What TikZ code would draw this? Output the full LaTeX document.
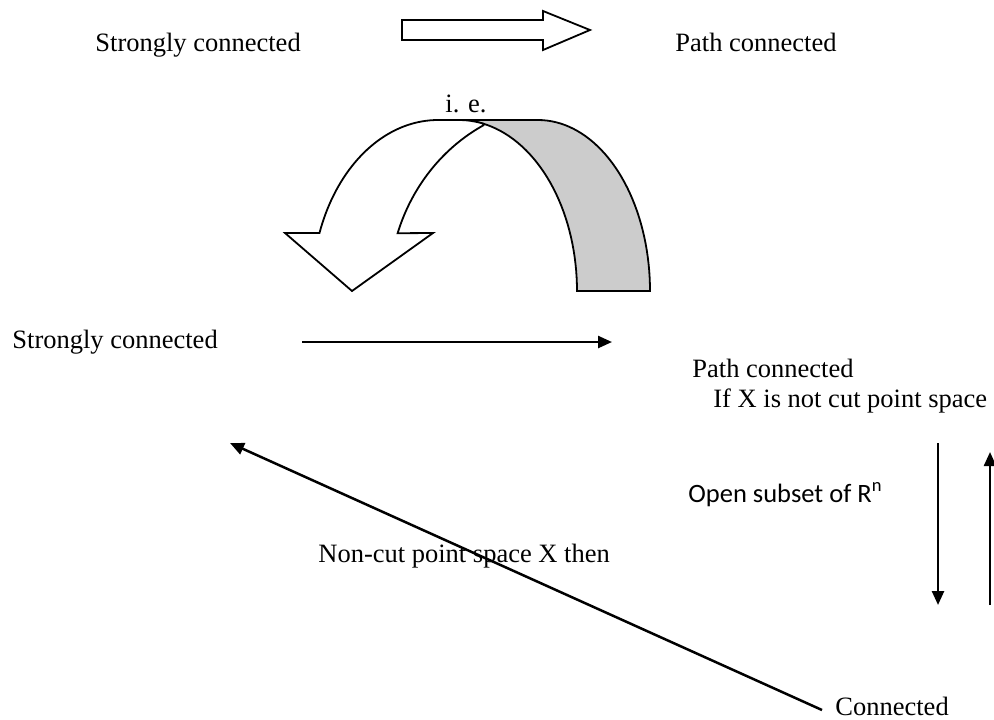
\documentclass[tikz,border=0pt]{standalone}
\usepackage{fontspec}
\setmainfont{Liberation Serif}
\newfontfamily\calibrilike{Carlito}
\usetikzlibrary{arrows.meta}
\definecolor{bandgray}{RGB}{204,204,204}
\begin{document}
\begin{tikzpicture}[x=0.5pt,y=-0.5pt,
  label/.style={anchor=base west,inner sep=0pt,font=\fontsize{13.25pt}{15pt}\selectfont},
  sanslabel/.style={label,font=\calibrilike\fontsize{13.25pt}{15pt}\selectfont},
  link/.style={line width=1.25pt,-{Triangle[length=7pt,width=6pt]}},
  blockarrow/.style={draw=black,line width=0.9pt,fill=white,line join=miter},
  backband/.style={draw=black,line width=0.9pt,fill=bandgray}]
\useasboundingbox (0,0) rectangle (994,719);

% statement line at the top
\node[label] (sc1) at (95,51) {Strongly connected};
\node[label] (pc1) at (675,51) {Path connected};
\filldraw[blockarrow] (402,20) -- (543,20) -- (543,11) -- (590,30)
  -- (543,50) -- (543,40) -- (402,40) -- cycle;

% curved "i. e." arrow: shaded back band, then the white front band with its head
\node[label] (ie) at (445,112) {i. e.};
\filldraw[backband] (459,120) -- (538,120)
  -- plot[domain=270:360,samples=40] ({538+112*cos(\x)},{291+171*sin(\x)})
  -- (577,291)
  -- plot[domain=360:270,samples=40] ({459+118*cos(\x)},{291+171*sin(\x)})
  -- cycle;
\filldraw[blockarrow]
  plot[domain=199.8:270,samples=40] ({438+126*cos(\x)},{291+171*sin(\x)})
  -- (459,120)
  -- plot[domain=270:281.7,samples=10] ({459+118*cos(\x)},{291+171*sin(\x)})
  -- plot[domain=242.4:198,samples=40] ({565+176*cos(\x)},{291+187*sin(\x)})
  -- (433,233) -- (352,291) -- (285,233) -- cycle;

% the implications in detail
\node[label] (sc2) at (12,348) {Strongly connected};
\node[label] (pc2) at (692,377) {Path connected};
\node[label] (cond) at (713,407) {If X is not cut point space};
\node[sanslabel] (open) at (688,502) {Open subset of R\textsuperscript{n}};
\node[label] (noncut) at (318,562) {Non-cut point space X then};
\node[label] (conn) at (835,715) {Connected};

\coordinate (hA) at (302,342);
\coordinate (hB) at (612,342);
\coordinate (dA) at (938,443);
\coordinate (dB) at (938,605);
\coordinate (uA) at (990,605);
\coordinate (uB) at (990,452);
\coordinate (gA) at (822,710);
\coordinate (gB) at (230,443);

\draw[link] (hA) -- (hB);
\draw[link] (dA) -- (dB);
\draw[link] (uA) -- (uB);
\draw[link] (gA) -- (gB);
\end{tikzpicture}
\end{document}
